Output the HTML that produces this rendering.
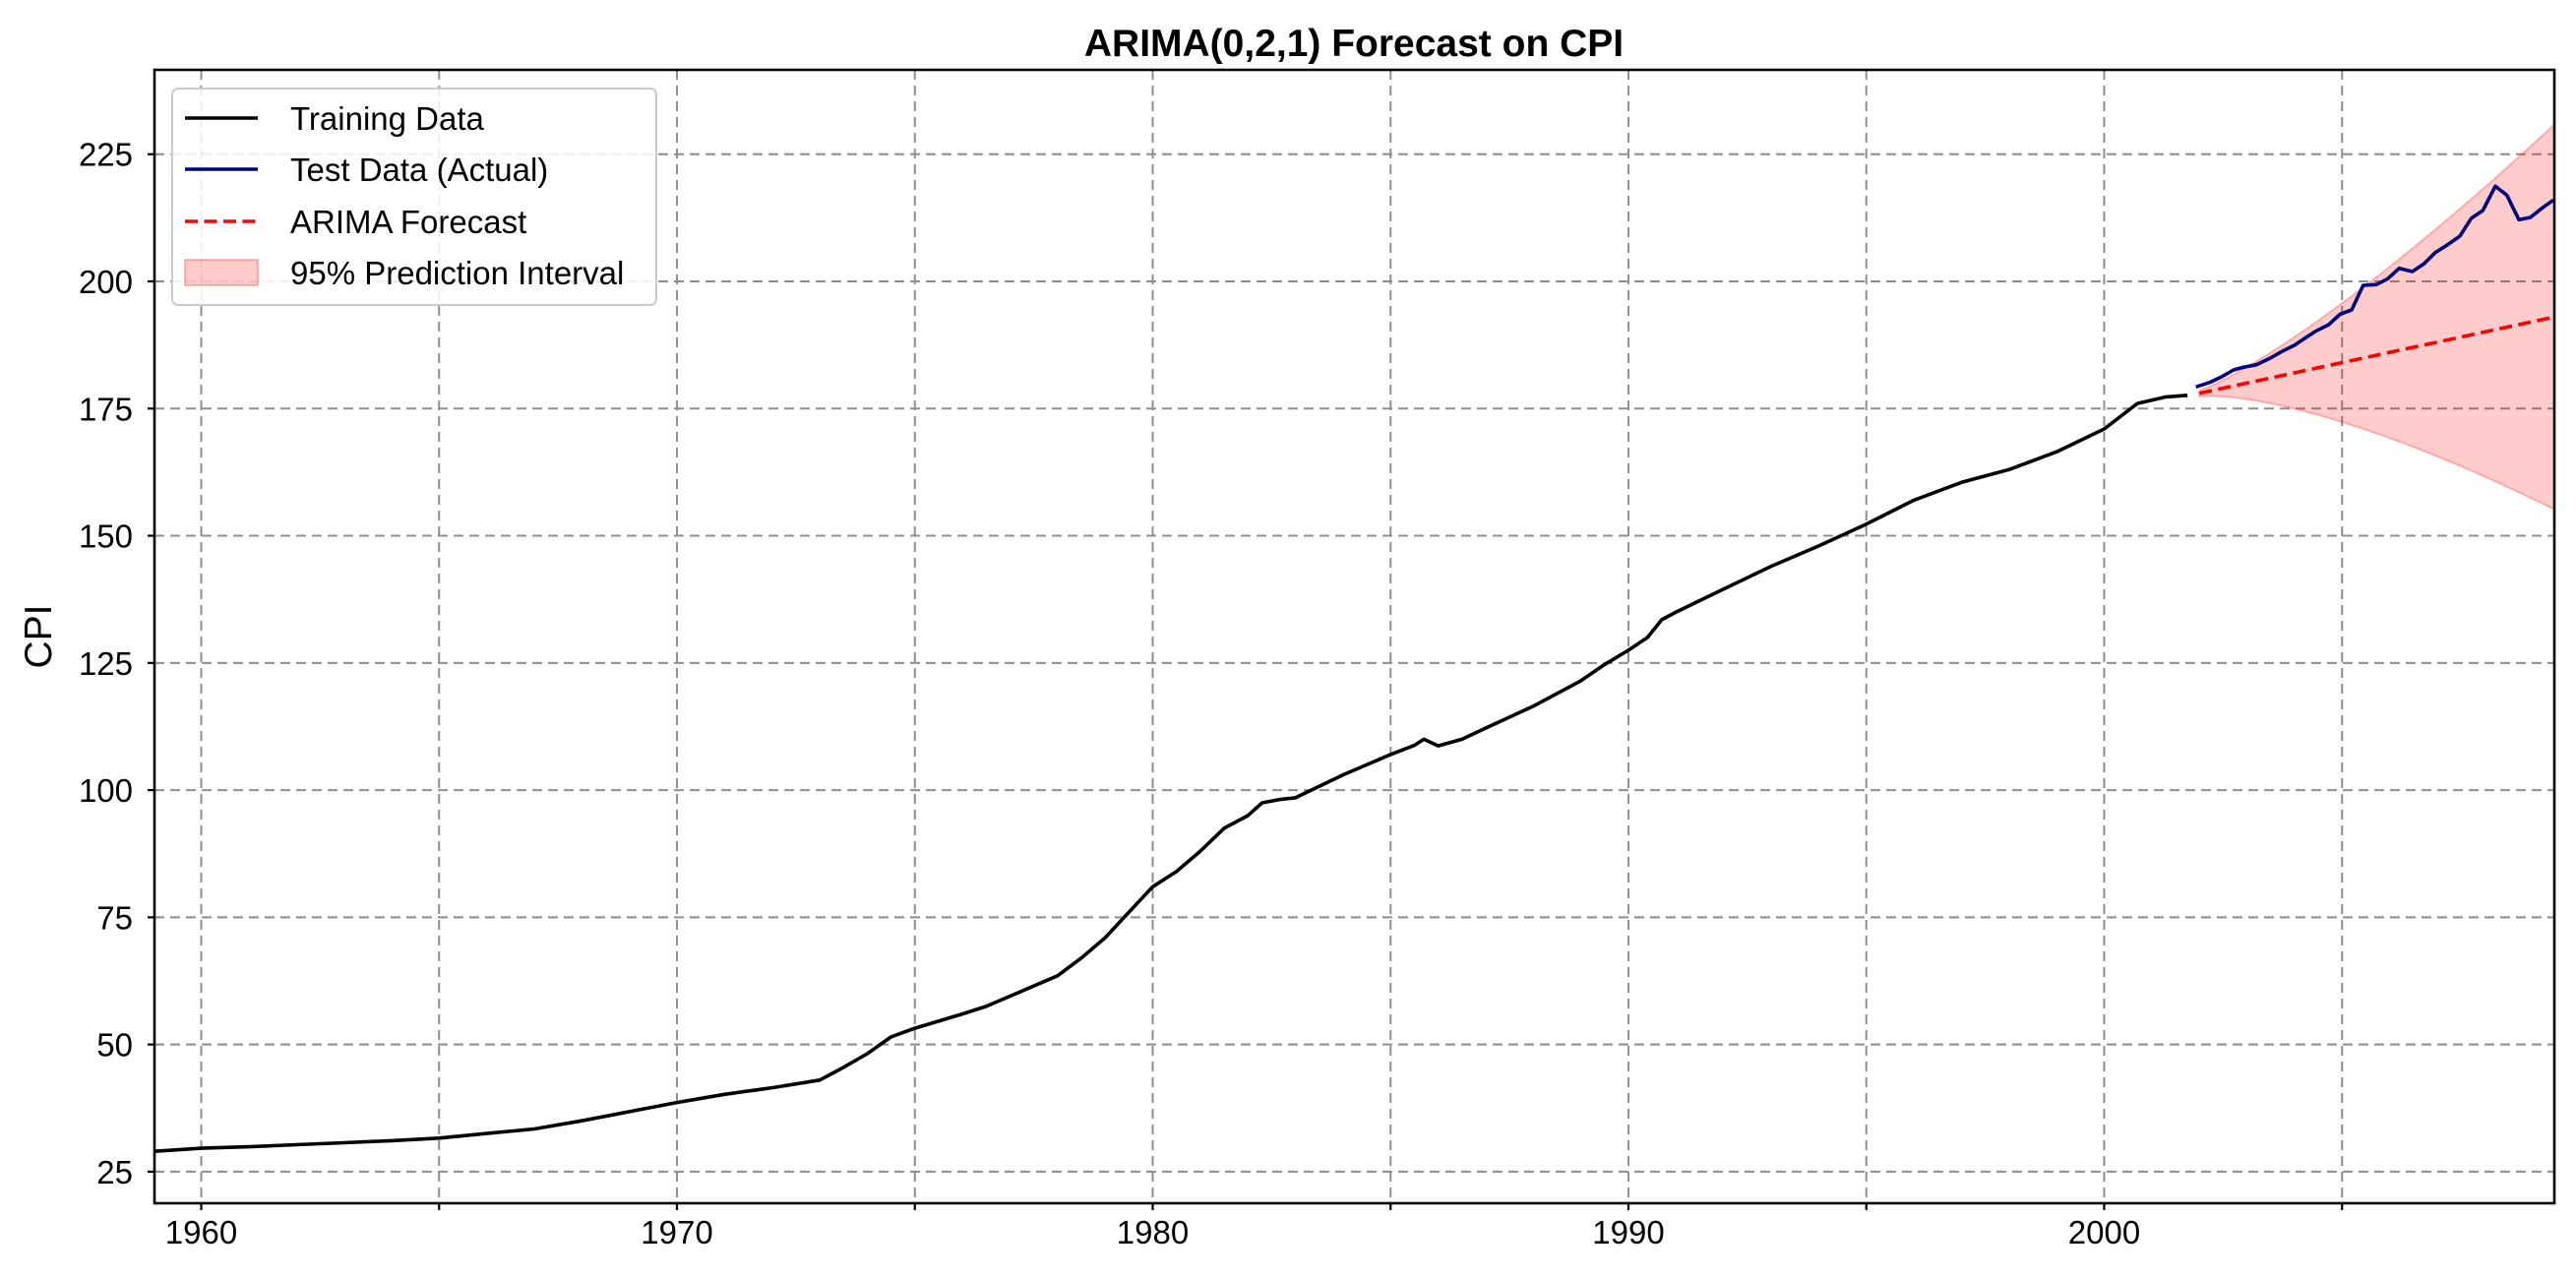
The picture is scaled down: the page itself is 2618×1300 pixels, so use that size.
<!DOCTYPE html>
<html><head><meta charset="utf-8"><style>
html,body{margin:0;padding:0;background:#fff;}
svg{display:block;font-family:"Liberation Sans",Arial,sans-serif;}
</style></head><body>
<svg id="s" width="2618" height="1300" viewBox="0 0 2618 1300" xmlns="http://www.w3.org/2000/svg">
<rect width="2618" height="1300" fill="#fff"/>
<g id="grid"></g>
<path id="band" fill="rgba(255,0,0,0.2)" stroke="rgba(255,0,0,0.25)" stroke-width="2"/>
<path id="train" fill="none" stroke="#000" stroke-width="3.6" stroke-linejoin="round"/>
<path id="test" fill="none" stroke="#00007f" stroke-width="3.6" stroke-linejoin="round"/>
<path id="fc" fill="none" stroke="#ff0000" stroke-width="3.6" stroke-dasharray="13,6.5"/>
<rect x="157" y="71" width="2439" height="1152" fill="none" stroke="#000" stroke-width="2.6"/>
<g id="ticks"></g>
<text x="1376" y="57" font-size="39" font-weight="bold" text-anchor="middle">ARIMA(0,2,1) Forecast on CPI</text>
<text transform="translate(52,647) rotate(-90)" font-size="39" text-anchor="middle">CPI</text>
<g>
<rect x="175" y="90" width="492" height="220" rx="6" fill="rgba(255,255,255,0.85)" stroke="#ccc" stroke-width="2"/>
<line x1="188" x2="262" y1="120" y2="120" stroke="#000" stroke-width="3.6"/>
<line x1="188" x2="262" y1="172" y2="172" stroke="#00007f" stroke-width="3.6"/>
<line x1="188" x2="262" y1="225" y2="225" stroke="#f00" stroke-width="3.6" stroke-dasharray="13,6.5"/>
<rect x="188" y="264" width="74" height="26" fill="rgba(255,0,0,0.2)" stroke="rgba(255,0,0,0.25)" stroke-width="2"/>
<text x="295" y="132" font-size="33">Training Data</text>
<text x="295" y="184" font-size="33">Test Data (Actual)</text>
<text x="295" y="237" font-size="33">ARIMA Forecast</text>
<text x="295" y="289" font-size="33">95% Prediction Interval</text>
</g>
</svg>
<script>
var NS="http://www.w3.org/2000/svg";
function X(y){return 204.5+(y-1960)*48.35;}
function Y(v){return 286-(v-200)*5.171;}
function el(p,t,a){var e=document.createElementNS(NS,t);for(var k in a)e.setAttribute(k,a[k]);p.appendChild(e);return e;}
var g=document.getElementById('grid'),tk=document.getElementById('ticks');
for(var yr=1960;yr<=2005;yr+=5){var x=X(yr);
 el(g,'line',{x1:x,x2:x,y1:71,y2:1223,stroke:'#8f8f8f',"stroke-width":2,"stroke-dasharray":"10,6"});
 el(tk,'line',{x1:x,x2:x,y1:1223,y2:1230,stroke:'#000',"stroke-width":2.2});
 if(yr%10==0){var t=el(tk,'text',{x:x,y:1264,"font-size":33,"text-anchor":"middle"});t.textContent=yr;}
}
for(var v=25;v<=225;v+=25){var y=Y(v);
 el(g,'line',{x1:157,x2:2596,y1:y,y2:y,stroke:'#8f8f8f',"stroke-width":2,"stroke-dasharray":"10,6"});
 el(tk,'line',{x1:150,x2:157,y1:y,y2:y,stroke:'#000',"stroke-width":2.2});
 var t=el(tk,'text',{x:135,y:y+12,"font-size":33,"text-anchor":"end"});t.textContent=v;}
var tr=[[1959.02,29],[1960,29.6],[1961,29.9],[1962,30.3],[1963,30.7],[1964,31.1],[1965,31.6],[1966,32.5],[1967,33.4],[1968,35],[1969,36.8],[1970,38.6],[1971,40.2],[1972,41.5],[1973,43],[1973.3,44.5],[1973.5,45.5],[1974,48.2],[1974.5,51.5],[1975,53.2],[1976,56],[1976.5,57.5],[1977,59.5],[1978,63.5],[1978.5,67],[1979,71],[1979.5,76],[1980,81],[1980.5,84],[1981,88],[1981.5,92.5],[1982,95],[1982.3,97.5],[1982.7,98.2],[1983,98.5],[1984,103],[1985,107],[1985.5,108.8],[1985.7,110],[1986,108.7],[1986.5,110],[1987,112.2],[1988,116.5],[1989,121.5],[1989.5,124.7],[1990,127.5],[1990.4,130],[1990.7,133.5],[1991,135],[1992,139.5],[1993,144],[1994,148],[1995,152.3],[1996,157],[1997,160.5],[1998,163],[1999,166.5],[2000,171],[2000.7,176],[2001.3,177.3],[2001.75,177.6]];
document.getElementById('train').setAttribute('d','M'+tr.map(function(p){return X(p[0]).toFixed(1)+','+Y(p[1]).toFixed(1)}).join('L'));
var te=[[155,880],[200,865],[235,848],[270,828],[300,820],[340,812],[380,793],[415,773],[455,753],[490,730],[520,710],[560,690],[595,658],[630,645],[665,570],[705,568],[740,550],[775,518],[815,528],[850,505],[885,470],[920,448],[960,420],[995,365],[1030,342],[1068,268],[1103,295],[1140,370],[1175,363],[1210,335],[1245,310]];
document.getElementById('test').setAttribute('d','M'+te.map(function(p){return (2180+p[0]/3).toFixed(1)+','+(100+p[1]/3).toFixed(1)}).join('L'));
var x0=2002,x1=2009.46,T=x1-x0;
function mid(y){return 178+(193-178)*(y-x0)/T;}
function hw(y){var t=(y-x0)/T;return 0.6+37.2*Math.pow(t,1.33);}
var up=[],lo=[];
for(var i=0;i<=60;i++){var yy=x0+T*i/60;up.push(X(yy).toFixed(1)+','+Y(mid(yy)+hw(yy)).toFixed(1));lo.unshift(X(yy).toFixed(1)+','+Y(mid(yy)-hw(yy)).toFixed(1));}
document.getElementById('band').setAttribute('d','M'+up.join('L')+'L'+lo.join('L')+'Z');
document.getElementById('fc').setAttribute('d','M'+X(x0)+','+Y(178)+'L'+X(x1)+','+Y(193));
</script>
</body></html>
